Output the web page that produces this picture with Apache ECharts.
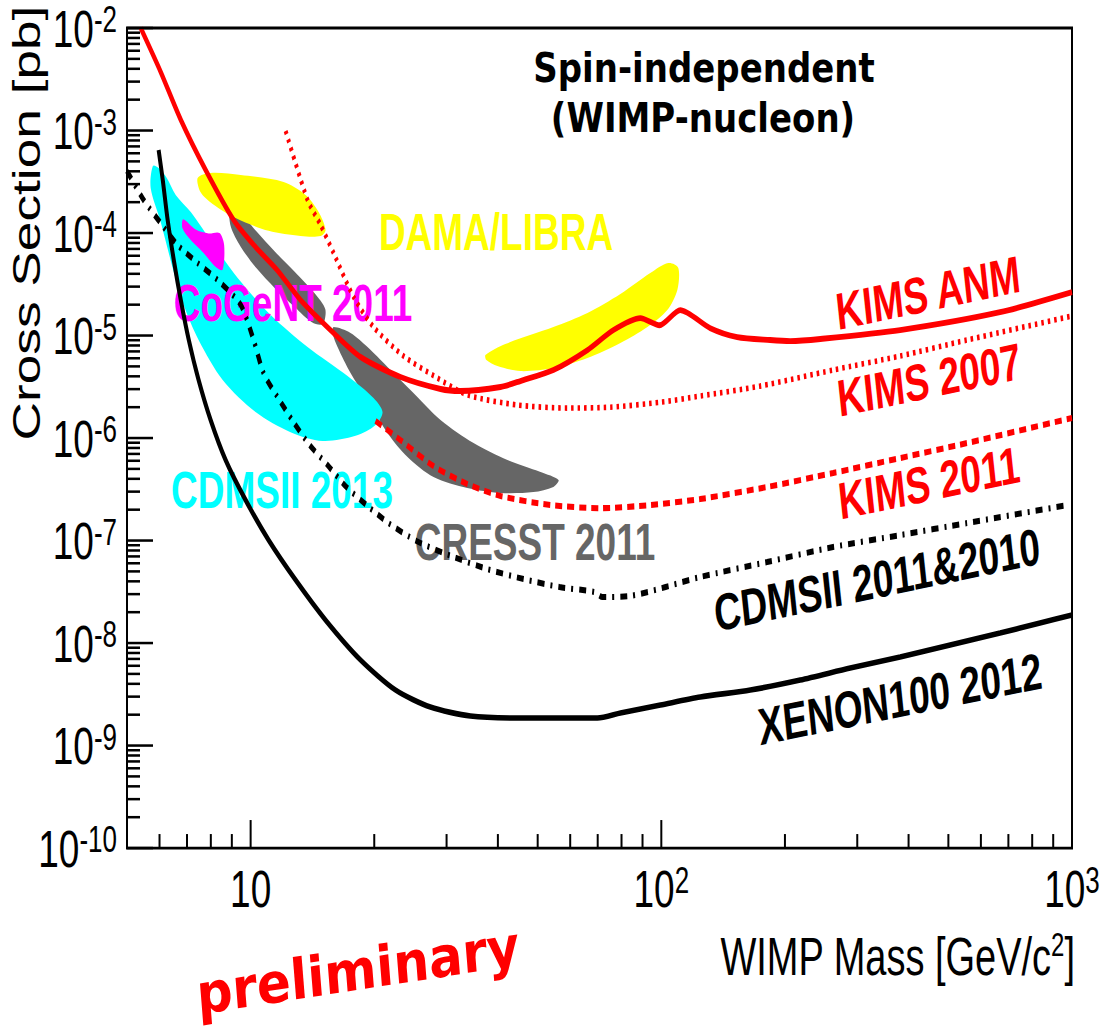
<!DOCTYPE html>
<html><head><meta charset="utf-8">
<script src="https://cdn.jsdelivr.net/npm/echarts@6/dist/echarts.min.js"></script>
<style>
html,body{margin:0;padding:0;background:#fff;overflow:hidden}
#wrap{width:1106px;height:1031px;overflow:hidden;position:relative;background:#fff}
#c{width:1106px;height:736px;transform:scale(1,1.40082);transform-origin:0 0}
</style></head><body>
<div id="wrap"><div id="c"></div></div>
<script>
// ---------------- data (WIMP mass [GeV/c^2], cross section [pb]) ----------------
const kimsAnm = [[5.40,1.0e-2],[6.04,3.73e-3],[6.76,1.27e-3],[7.77,4.12e-4],[9.09,1.34e-4],[10.28,7.3e-5],[11.6,4.36e-5],[13.23,2.22e-5],[15.65,1.13e-5],[18.52,6.17e-6],[23.17,3.94e-6],[29.0,3.01e-6],[32.4,2.88e-6],[40.6,3.15e-6],[45.4,3.6e-6],[54.6,4.61e-6],[66.1,7.22e-6],[76.4,1.13e-5],[88.9,1.48e-5],[99,1.26e-5],[111.2,1.77e-5],[131.6,1.18e-5],[153,9.66e-6],[184,9.04e-6],[206,8.83e-6],[244,9.25e-6],[381.5,1.13e-5],[668,1.69e-5],[1000,2.65e-5]];
const kims2007 = [[12.17,9.9e-4],[13.76,2.1e-4],[14.8,1.2e-4],[15.92,6.38e-5],[17.81,2.38e-5],[19.92,1.21e-5],[23.57,6.31e-6],[28.5,3.85e-6],[33.7,2.63e-6],[44.6,2.1e-6],[59.1,1.96e-6],[75.2,2.0e-6],[100,2.24e-6],[124.4,2.57e-6],[174,3.21e-6],[262,4.61e-6],[381.5,6.31e-6],[555,9.04e-6],[1000,1.55e-5]];
const kims2011 = [[20.14,1.47e-6],[23.17,9.55e-7],[27.88,5.33e-7],[33.7,3.56e-7],[40.6,2.72e-7],[53.7,2.22e-7],[71.1,2.07e-7],[94,2.22e-7],[124.4,2.54e-7],[181,3.33e-7],[262,4.56e-7],[381.5,6.38e-7],[555,8.93e-7],[1000,1.57e-6]];
const cdms2011 = [[5.0,4.03e-4],[5.49,2.1e-4],[6.04,1.25e-4],[6.64,7.64e-5],[7.43,5.1e-5],[8.31,3.48e-5],[9.46,1.99e-5],[10.17,9.04e-6],[10.75,4.31e-6],[11.63,2.51e-6],[12.66,1.47e-6],[13.92,8.55e-7],[15.39,5.46e-7],[17.02,3.4e-7],[19.15,2.22e-7],[21.67,1.48e-7],[25.35,9.9e-8],[30.8,7.06e-8],[37.7,5.27e-8],[46.2,4.21e-8],[56.5,3.52e-8],[68.7,3.15e-8],[71.9,2.81e-8],[84.1,2.88e-8],[124.4,4.41e-8],[181,6.17e-8],[262,8.65e-8],[381.5,1.13e-7],[555,1.48e-7],[977,2.22e-7]];
const xenon2012 = [[5.97,6.45e-4],[6.11,3.29e-4],[6.28,1.339e-4],[6.50,5.45e-5],[6.76,2.22e-5],[7.07,9.04e-6],[7.47,3.68e-6],[7.99,1.498e-6],[8.69,6.1e-7],[9.72,2.484e-7],[11.06,1.011e-7],[12.87,4.118e-8],[15.22,1.676e-8],[18.52,6.83e-9],[22.53,3.479e-9],[27.4,2.374e-9],[34.3,1.94e-9],[45.4,1.855e-9],[69.9,1.855e-9],[79.5,2.075e-9],[99.5,2.484e-9],[124.4,2.973e-9],[164.7,3.479e-9],[217.9,4.355e-9],[288.4,5.70e-9],[381.5,7.30e-9],[505,9.56e-9],[668,1.252e-8],[835.7,1.567e-8],[1000,1.876e-8]];

const cdms2013Region = [[5.78,4.5e-4],[5.97,4.31e-4],[6.25,3.44e-4],[6.57,2.35e-4],[7.15,1.6e-4],[8.13,7.64e-5],[9.3,3.64e-5],[11.19,1.585e-5],[13.76,7.72e-6],[17.22,4.03e-6],[19.92,2.46e-6],[20.95,1.79e-6],[20.14,1.34e-6],[18.01,1.05e-6],[14.97,9.35e-7],[12.51,1.14e-6],[10.28,1.79e-6],[8.55,3.68e-6],[7.47,9.04e-6],[6.87,1.98e-5],[6.46,4.56e-5],[6.04,1.28e-4],[5.71,2.75e-4]];
const cogentRegion = [[6.85,1.36e-4],[7.35,1.08e-4],[7.90,9.9e-5],[8.40,1.0e-4],[8.62,7.64e-5],[8.55,4.4e-5],[8.25,4.6e-5],[7.65,6.5e-5],[7.12,8.7e-5],[6.82,1.12e-4]];
const damaRegionA = [[7.43,3.44e-4],[7.99,3.85e-4],[9.46,3.68e-4],[12.03,3.15e-4],[13.61,2.35e-4],[14.64,1.6e-4],[15.22,1.07e-4],[14.8,9.35e-5],[13.23,9.35e-5],[11.06,1.05e-4],[9.19,1.4e-4],[8.08,1.92e-4],[7.55,2.51e-4]];
const damaRegionB = [[37.3,6.45e-6],[41.7,8.26e-6],[54.6,1.21e-5],[66.1,1.66e-5],[79.5,2.54e-5],[94.0,4.07e-5],[104,5.1e-5],[110,4.56e-5],[109.4,2.78e-5],[103.4,1.77e-5],[92.5,1.21e-5],[79.5,8.45e-6],[66.1,6.03e-6],[54.6,4.82e-6],[45.4,4.5e-6],[39.9,5.04e-6],[37.5,5.77e-6]];
const cresstRegionA = [[8.90,1.70e-4],[9.45,1.58e-4],[10.3,1.05e-4],[11.45,6.6e-5],[12.8,4.2e-5],[14.3,2.6e-5],[15.2,1.8e-5],[15.0,1.3e-5],[14.1,1.35e-5],[12.8,1.9e-5],[11.5,2.85e-5],[10.3,4.6e-5],[9.45,7.4e-5],[8.95,1.15e-4]];
const cresstRegionB = [[15.92,1.21e-5],[17.51,1.06e-5],[19.26,7.72e-6],[21.54,4.93e-6],[24.5,2.94e-6],[29.0,1.5e-6],[34.9,8.94e-7],[42.2,6.1e-7],[50.8,4.66e-7],[56.2,3.89e-7],[54.6,3.33e-7],[48.8,2.97e-7],[40.6,2.91e-7],[33.7,3.25e-7],[27.88,4.16e-7],[24.1,6.53e-7],[21.54,1.12e-6],[19.26,2.35e-6],[17.51,4.31e-6],[16.28,7.72e-6],[15.83,1.06e-5]];

// axis ticks
const xMajorTicks = [10, 100, 1000];
const xMinorTicks = [6,7,8,9,20,30,40,50,60,70,80,90,200,300,400,500,600,700,800,900];
const yMajorTicks = [1e-10,1e-9,1e-8,1e-7,1e-6,1e-5,1e-4,1e-3,1e-2];
const yMinorMantissas = [2,3,4,5,6,7,8,9];
const yMinorTicks = [];
yMajorTicks.slice(0, -1).forEach(d => yMinorMantissas.forEach(m => yMinorTicks.push(+(m * d).toPrecision(3))));

const X_MIN = 5, X_MAX = 1000, Y_MIN = 1e-10, Y_MAX = 1e-2;

// ---------------- styles ----------------
const FONT = '"Liberation Sans", Arial, Helvetica, sans-serif';
const COMIC = '"Comic Sans MS", "DejaVu Sans", sans-serif';

function powLabel(v, plainOne) {
  const e = Math.log10(v), r = Math.round(e);
  if (Math.abs(e - r) > 1e-6) return '';
  if (plainOne && r === 1) return '{b|10}';
  return '{b|10}{s|' + r + '}';
}
const labelRich = {
  b: {fontFamily: FONT, fontSize: 37, lineHeight: 38, padding: [12, 0, 0, 0], verticalAlign: 'bottom', color: '#000'},
  s: {fontFamily: FONT, fontSize: 26, lineHeight: 26, verticalAlign: 'top', color: '#000'}
};

function region(name, pts, color) {
  return {
    type: 'custom', name: name, z: 1, silent: true, data: pts, encode: {x: 0, y: 1},
    renderItem: (p, api) => {
      if (p.dataIndex !== 0) return null;
      return {type: 'polygon', shape: {points: pts.map(q => api.coord(q)), smooth: 0.3},
              style: {fill: color, stroke: null}};
    }
  };
}
function curve(name, pts, color, width, dash) {
  return {type: 'line', name: name, data: pts, z: 5, silent: true, showSymbol: false, symbol: 'none',
          smooth: 0.25, clip: true, animation: false,
          lineStyle: {color: color, width: width, type: dash || 'solid', cap: 'butt'}};
}
function xTicks(vals, len) {
  return {type: 'custom', z: 6, silent: true, data: vals.map(v => [v, Y_MIN]), encode: {x: 0, y: 1},
    renderItem: (p, api) => {
      const pt = api.coord([api.value(0), Y_MIN]);
      return {type: 'line', shape: {x1: pt[0], y1: pt[1], x2: pt[0], y2: pt[1] - len}, style: {stroke: '#000', lineWidth: 2}};
    }};
}
function yTicks(vals, len) {
  return {type: 'custom', z: 6, silent: true, data: vals.map(v => [X_MIN, v]), encode: {x: 0, y: 1},
    renderItem: (p, api) => {
      const pt = api.coord([X_MIN, api.value(1)]);
      return {type: 'line', shape: {x1: pt[0], y1: pt[1], x2: pt[0] + len, y2: pt[1]}, style: {stroke: '#000', lineWidth: 1.8}};
    }};
}
function label(text, x, y, color, rotDeg, opts) {
  opts = opts || {};
  return {type: 'text', x: x, y: y, z: 3, rotation: (rotDeg || 0) * Math.PI / 180,
    scaleY: opts.scaleY || 1, silent: true,
    style: {text: text, fill: color, font: opts.font || ('bold 37px ' + FONT),
            align: opts.align || 'center', textAlign: opts.align || 'center',
            verticalAlign: 'middle', textVerticalAlign: 'middle', rich: opts.rich}};
}

const chart = echarts.init(document.getElementById('c'), null, {renderer: 'svg', width: 1106, height: 736});
chart.setOption({
  animation: false,
  backgroundColor: '#fff',
  grid: {left: 127, right: 34, top: 20, bottom: 130.6, show: true, borderColor: '#000', borderWidth: 2,
         backgroundColor: 'transparent', containLabel: false, outerBoundsMode: 'none'},
  xAxis: {type: 'log', logBase: 10, min: X_MIN, max: X_MAX,
    axisLine: {show: false}, axisTick: {show: false}, splitLine: {show: false}, minorTick: {show: false},
    axisLabel: {margin: 10, formatter: v => powLabel(v, true), rich: labelRich, hideOverlap: false}},
  yAxis: {type: 'log', logBase: 10, min: Y_MIN, max: Y_MAX,
    axisLine: {show: false}, axisTick: {show: false}, splitLine: {show: false}, minorTick: {show: false},
    axisLabel: {margin: 10, formatter: v => powLabel(v, false), rich: labelRich, hideOverlap: false}},
  series: [
    region('CRESST 2011 a', cresstRegionA, '#666666'),
    region('CRESST 2011 b', cresstRegionB, '#666666'),
    region('CDMSII 2013', cdms2013Region, '#00ffff'),
    region('DAMA/LIBRA a', damaRegionA, '#ffff00'),
    region('DAMA/LIBRA b', damaRegionB, '#ffff00'),
    region('CoGeNT 2011', cogentRegion, '#ff00ff'),
    curve('XENON100 2012', xenon2012, '#000000', 4),
    curve('CDMSII 2011&2010', cdms2011, '#000000', 4.3, [7, 6, 2, 6]),
    curve('KIMS 2011', kims2011, '#ff0000', 4.3, [7, 5]),
    curve('KIMS 2007', kims2007, '#ff0000', 4, [2.5, 4]),
    curve('KIMS ANM', kimsAnm, '#ff0000', 4.2),
    xTicks(xMajorTicks, 20), xTicks(xMinorTicks, 10),
    yTicks(yMajorTicks, 26), yTicks(yMinorTicks, 13)
  ],
  graphic: [
    label('Spin-independent', 704, 48.5, '#000', 0, {font: 'bold 34px ' + COMIC, scaleY: 0.85}),
    label('(WIMP-nucleon)', 703, 84.2, '#000', 0, {font: 'bold 34px ' + COMIC, scaleY: 0.85}),
    label('DAMA/LIBRA', 496, 165.6, '#ffff00'),
    label('CoGeNT 2011', 293, 216.3, '#ff00ff'),
    label('CDMSII 2013', 282, 349.8, '#00ffff'),
    label('CRESST 2011', 535, 386.9, '#666666'),
    label('KIMS ANM', 928, 209.2, '#ff0000', 8.5),
    label('KIMS 2007', 929, 271.3, '#ff0000', 8.5),
    label('KIMS 2011', 929, 344.8, '#ff0000', 8.5),
    label('CDMSII 2011&2010', 877, 414, '#000', 8.5),
    label('XENON100 2012', 900, 499, '#000', 8.2),
    label('preliminary', 358, 693, '#ff0000', 6.3, {font: 'bold 50px ' + COMIC, scaleY: 0.8}),
    label('Cross Section [pb]', 27, 159.2, '#000', 90, {font: '38px ' + FONT}),
    label('{n|WIMP Mass [GeV/c}{s|2}{n|]}', 1075, 682, '#000', 0, {align: 'right', font: '38px ' + FONT,
      rich: {n: {fontFamily: FONT, fontSize: 38, lineHeight: 40, padding: [10, 0, 0, 0], verticalAlign: 'bottom', fill: '#000', color: '#000'},
             s: {fontFamily: FONT, fontSize: 24, lineHeight: 24, verticalAlign: 'top', fill: '#000', color: '#000'}}})
  ]
});
</script>
</body></html>
